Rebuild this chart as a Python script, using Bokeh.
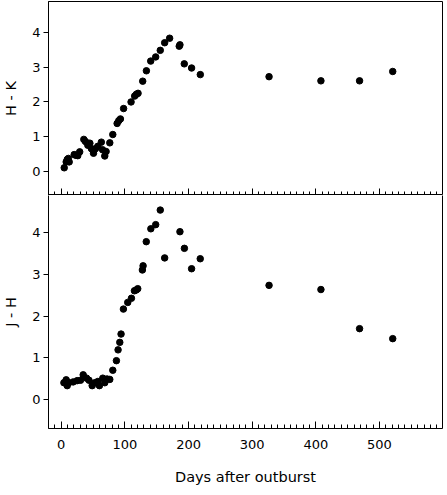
from bokeh.plotting import figure
from bokeh.layouts import column
from bokeh.models import LinearAxis, SingleIntervalTicker, Range1d, CustomLabelingPolicy
from bokeh.embed import file_html
from bokeh.resources import INLINE

# ---- data ----
days_hk = [4.7, 7.8, 9.5, 11.2, 12.5, 20.4, 23.0, 26.0, 29.0, 35.5, 38.0, 41.8,
           45.0, 47.5, 50.7, 53.8, 57.5, 63.0, 65.0, 68.4, 70.5, 76.3, 81.0,
           87.8, 90.4, 93.0, 98.0, 109.7, 115.4, 118.0, 120.7, 128.0, 133.8,
           140.6, 148.4, 155.6, 162.5, 170.3, 185.4, 186.5, 193.3, 204.8,
           218.5, 326.5, 408.0, 468.7, 520.8]
hk = [0.10, 0.27, 0.34, 0.37, 0.27, 0.48, 0.46, 0.45, 0.56, 0.92, 0.86, 0.75,
      0.81, 0.65, 0.52, 0.65, 0.72, 0.84, 0.62, 0.44, 0.57, 0.82, 1.06,
      1.38, 1.46, 1.51, 1.81, 2.00, 2.17, 2.22, 2.25, 2.60, 2.90,
      3.18, 3.30, 3.49, 3.71, 3.84, 3.61, 3.65, 3.10, 2.98,
      2.79, 2.73, 2.61, 2.61, 2.88]

days_jh = [4.2, 5.8, 7.8, 9.4, 12.0, 18.8, 25.0, 30.3, 34.5, 39.8, 43.6, 48.6,
           52.8, 57.5, 60.0, 65.3, 68.4, 72.0, 76.3, 81.0, 86.7, 89.3, 92.0,
           94.0, 97.7, 104.5, 110.3, 115.0, 118.0, 120.2, 127.5, 128.6, 133.6,
           140.8, 148.4, 155.6, 162.5, 186.5, 193.5, 204.8, 218.4, 326.5,
           408.0, 468.7, 520.8]
jh = [0.40, 0.40, 0.47, 0.33, 0.40, 0.42, 0.45, 0.46, 0.59, 0.51, 0.46, 0.33,
      0.40, 0.43, 0.33, 0.51, 0.40, 0.49, 0.48, 0.70, 0.93, 1.19, 1.37,
      1.57, 2.17, 2.33, 2.43, 2.61, 2.63, 2.66, 3.11, 3.21, 3.79,
      4.10, 4.20, 4.55, 3.40, 4.03, 3.63, 3.14, 3.38, 2.74,
      2.64, 1.70, 1.46]

x_ticks_interval = 100
y_ticks_interval = 1

FONT = "DejaVu Sans"
FW = 394

xr = Range1d(-20, 599)


def style_y(p, label):
    ax = p.yaxis[0]
    ax.ticker = SingleIntervalTicker(interval=y_ticks_interval, num_minor_ticks=0)
    ax.major_tick_out = 5
    ax.major_tick_in = 0
    ax.minor_tick_out = 0
    ax.minor_tick_in = 0
    ax.major_label_text_font = FONT
    ax.major_label_text_font_size = "13px"
    ax.major_label_text_color = "black"
    ax.major_label_standoff = 3
    ax.axis_label = label
    ax.axis_label_text_font = FONT
    ax.axis_label_text_font_size = "14.5px"
    ax.axis_label_text_font_style = "normal"
    ax.axis_label_text_color = "black"
    ax.axis_label_standoff = 10
    ax.axis_line_color = "black"
    ax.major_tick_line_color = "black"


def style_x(ax, labels=True):
    ax.ticker = SingleIntervalTicker(interval=x_ticks_interval, num_minor_ticks=10)
    ax.major_tick_in = 7
    ax.major_tick_out = 0
    ax.minor_tick_in = 4
    ax.minor_tick_out = 0
    ax.axis_line_color = "black"
    ax.major_tick_line_color = "black"
    ax.minor_tick_line_color = "black"
    if labels:
        ax.major_label_text_font = FONT
        ax.major_label_text_font_size = "13px"
        ax.major_label_text_color = "black"
        ax.major_label_standoff = 11
        ax.axis_label = "Days after outburst"
        ax.axis_label_text_font = FONT
        ax.axis_label_text_font_size = "14.5px"
        ax.axis_label_text_font_style = "normal"
        ax.axis_label_text_color = "black"
        ax.axis_label_standoff = 17
    else:
        ax.major_label_text_font_size = "0px"
        ax.major_label_standoff = 0
        ax.major_label_policy = CustomLabelingPolicy(code="return []")


p1 = figure(frame_width=FW, frame_height=194, x_range=xr,
            y_range=Range1d(-0.7, 4.9), output_backend="svg",
            toolbar_location=None, min_border=0, min_border_left=43,
            min_border_top=1, min_border_right=1, min_border_bottom=0)
p1.grid.visible = False
p1.outline_line_color = "black"
p1.outline_line_alpha = 1
style_y(p1, "H - K")
style_x(p1.xaxis[0], labels=False)
p1.scatter(days_hk, hk, size=6.5, color="black")

p2 = figure(frame_width=FW, frame_height=233, x_range=xr,
            y_range=Range1d(-0.7, 4.9), output_backend="svg",
            toolbar_location=None, min_border=0, min_border_left=43,
            min_border_top=0, min_border_right=1, min_border_bottom=0)
p2.grid.visible = False
p2.outline_line_color = None
style_y(p2, "J - H")
style_x(p2.xaxis[0], labels=True)
rax = LinearAxis(major_tick_in=0, major_tick_out=0, minor_tick_in=0,
                 minor_tick_out=0, major_label_text_font_size="0px",
                 major_label_standoff=0, axis_line_color="black",
                 major_label_policy=CustomLabelingPolicy(code="return []"))
p2.add_layout(rax, "right")
p2.scatter(days_jh, jh, size=6.5, color="black")

layout = column(p1, p2, spacing=0)

open("out.html", "w").write(file_html(layout, INLINE))
